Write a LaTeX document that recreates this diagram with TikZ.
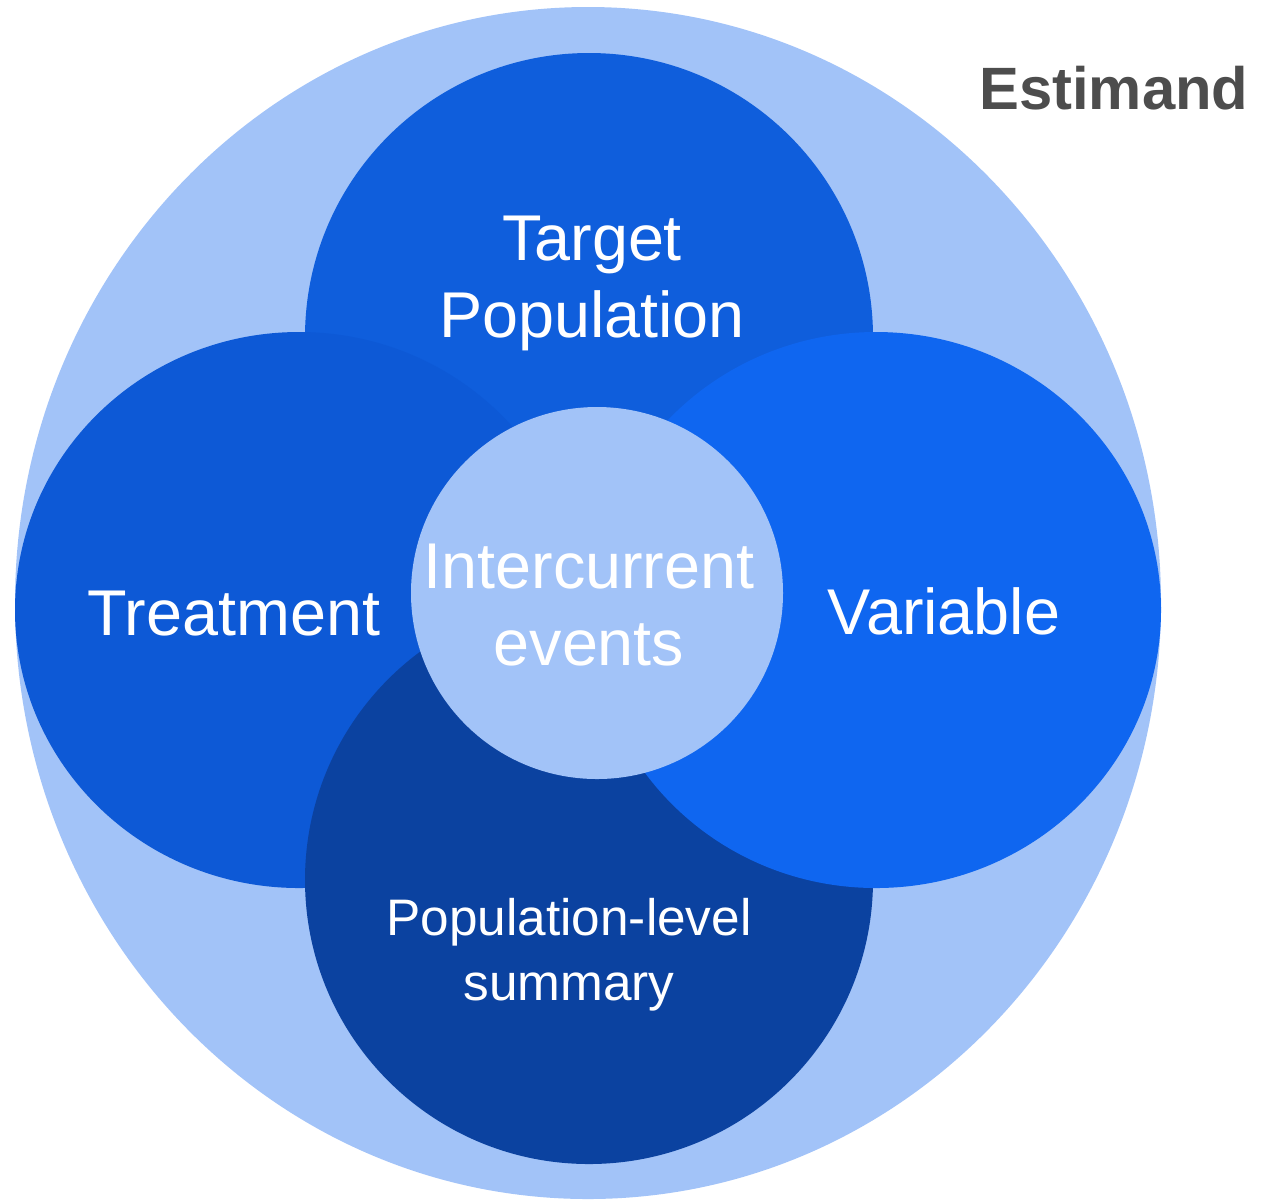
\documentclass[tikz,border=0pt]{standalone}
\usepackage{fontspec}
\setmainfont{Liberation Sans}

\definecolor{estlight}{HTML}{A2C3F8}
\definecolor{poptop}{HTML}{0F5EDC}
\definecolor{trtleft}{HTML}{0D59D6}
\definecolor{sumbottom}{HTML}{0B42A0}
\definecolor{varright}{HTML}{0F66F0}
\definecolor{esttext}{HTML}{4D4D4D}

\begin{document}
\begin{tikzpicture}[x=0.01cm, y=-0.01cm,
        lbl/.style={text=white, align=center, inner sep=0pt,
            font=\fontsize{18.4}{21.9}\selectfont}]
    \useasboundingbox (0,0) rectangle (1273,1199);
    \clip (0,0) rectangle (1273,1199);

    % outer ellipse
    \fill[estlight] (588,603) ellipse [x radius=573, y radius=596];

    % the four parts, back to front
    \fill[poptop] (589,337) ellipse [x radius=284, y radius=284];
    \fill[trtleft] (299,610) ellipse [x radius=284, y radius=278];
    \fill[sumbottom] (589,880) ellipse [x radius=284, y radius=284];
    \fill[varright] (876,610) ellipse [x radius=285, y radius=278];

    % middle
    \fill[estlight] (597,593) circle [radius=186];

    \node[lbl] (target) at (592,283) {Target\\Population};
    \node[lbl] (treatment) at (234,614) {Treatment};
    \node[lbl] (intercurrent) at (589,605) {Intercurrent\\events};
    \node[lbl] (variable) at (944,611) {Variable};
    \node[lbl, font=\fontsize{14.6}{18.4}\selectfont] (summary) at (569,955)
        {Population-level\\summary};

    \node[anchor=east, inner sep=0pt, text=esttext,
        font=\fontsize{17}{20}\selectfont\bfseries] (estimand) at (1249,88) {Estimand};
\end{tikzpicture}
\end{document}
